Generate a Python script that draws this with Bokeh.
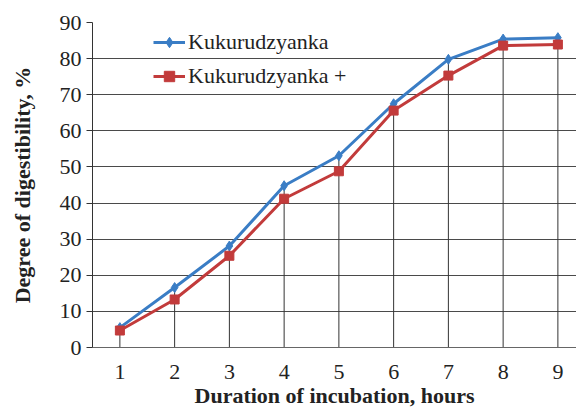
from bokeh.plotting import figure
from bokeh.models import Legend, LegendItem, FixedTicker, Range1d
from bokeh.embed import file_html
from bokeh.resources import INLINE

hours = [1, 2, 3, 4, 5, 6, 7, 8, 9]
kuk = [5.5, 16.6, 28.1, 44.8, 53.1, 67.5, 79.8, 85.4, 85.8]
kuk_plus = [4.7, 13.3, 25.4, 41.2, 48.8, 65.6, 75.3, 83.6, 83.9]
y_ticks = [0, 10, 20, 30, 40, 50, 60, 70, 80, 90]

FONT = "Liberation Serif"

p = figure(width=576, height=412, output_backend="svg", toolbar_location=None,
           x_range=Range1d(0.5, 9.34), y_range=Range1d(0, 90),
           min_border_left=92, min_border_right=0, min_border_top=22, min_border_bottom=65)
p.outline_line_color = None
p.background_fill_color = "white"

p.xgrid.grid_line_color = None
p.ygrid.grid_line_color = "#4a4a4a"
p.ygrid.grid_line_width = 1
p.ygrid.ticker = FixedTicker(ticks=y_ticks)

p.yaxis.ticker = FixedTicker(ticks=y_ticks)
p.xaxis.ticker = FixedTicker(ticks=hours)
for ax in (p.xaxis[0], p.yaxis[0]):
    ax.major_label_text_font = FONT
    ax.major_label_text_font_size = "22px"
    ax.major_label_text_color = "#222222"
    ax.axis_label_text_font = FONT
    ax.axis_label_text_font_style = "bold"
    ax.axis_label_text_font_size = "22px"
    ax.axis_label_text_color = "#222222"
    ax.minor_tick_line_color = None
    ax.axis_line_color = "#333333"
    ax.major_tick_line_color = "#333333"

p.xaxis.major_tick_out = 0
p.xaxis.major_tick_in = 0
p.xaxis.major_label_standoff = 17
p.xaxis.axis_label_standoff = 1
p.xaxis.axis_line_color = "#666666"
p.xaxis.axis_label = "Duration of incubation, hours"

p.yaxis.major_tick_out = 6
p.yaxis.major_tick_in = 0
p.yaxis.major_label_standoff = 5
p.yaxis.axis_label_standoff = 22
p.yaxis.axis_label = "Degree of digestibility, %"

tops = [max(a, b) for a, b in zip(kuk, kuk_plus)]
p.segment(x0=hours, y0=[0] * len(hours), x1=hours, y1=tops, line_color="#333333", line_width=1)

blue = "#3a7dc5"
red = "#c23b3b"
r1 = p.line(hours, kuk, line_color=blue, line_width=3)
m1 = p.scatter(hours, kuk, marker="diamond", size=10, fill_color=blue, line_color=blue)
r2 = p.line(hours, kuk_plus, line_color=red, line_width=3)
m2 = p.scatter(hours, kuk_plus, marker="square", size=9, fill_color=red, line_color=red)

legend = Legend(items=[LegendItem(label="Kukurudzyanka", renderers=[r1, m1]),
                       LegendItem(label="Kukurudzyanka +", renderers=[r2, m2])],
                location=(61, 258), orientation="vertical")
legend.label_text_font = FONT
legend.label_text_font_size = "22px"
legend.label_text_color = "#222222"
legend.glyph_width = 32
legend.glyph_height = 26
legend.label_height = 26
legend.spacing = 8
legend.padding = 0
legend.margin = 0
legend.label_standoff = 3
legend.border_line_color = None
legend.background_fill_alpha = 0
p.add_layout(legend, "center")

open("out.html", "w").write(file_html(p, INLINE))
